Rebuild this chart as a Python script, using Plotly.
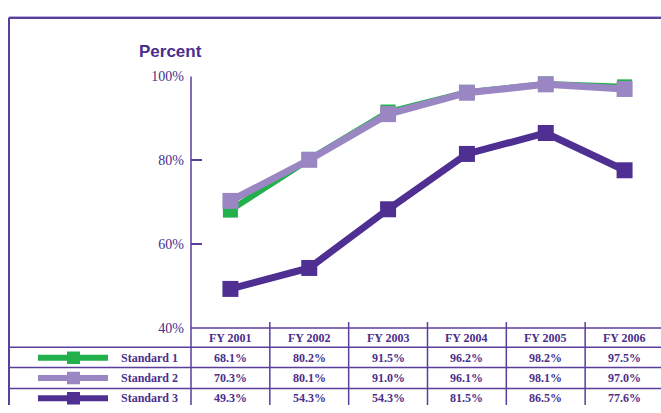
import plotly.graph_objects as go

W, H = 661, 413

categories = ["FY 2001", "FY 2002", "FY 2003", "FY 2004", "FY 2005", "FY 2006"]
series_names = ["Standard 1", "Standard 2", "Standard 3"]
standard1 = [68.1, 80.2, 91.5, 96.2, 98.2, 97.5]
standard2 = [70.3, 80.1, 91.0, 96.1, 98.1, 97.0]
standard3 = [49.3, 54.3, 68.3, 81.5, 86.5, 77.6]
# table texts as printed in the chart
table_standard1 = ["68.1%", "80.2%", "91.5%", "96.2%", "98.2%", "97.5%"]
table_standard2 = ["70.3%", "80.1%", "91.0%", "96.1%", "98.1%", "97.0%"]
table_standard3 = ["49.3%", "54.3%", "54.3%", "81.5%", "86.5%", "77.6%"]
y_ticks = [40, 60, 80, 100]
y_tick_labels = ["40%", "60%", "80%", "100%"]

colors = ["#22B04D", "#9A86C2", "#4F2F92"]
line_widths = [6, 7, 7]
marker_sizes = [15, 16, 16]
TXT = "#4A2E8C"
LINE = "#5A3E9C"
SERIF = "Liberation Serif, Times New Roman, serif"

def px(x):
    return x / W

def py(y):
    return 1 - y / H

values = [standard1, standard2, standard3]
tables = [table_standard1, table_standard2, table_standard3]

fig = go.Figure()
for name, vals, c, lw, ms in zip(series_names, values, colors, line_widths, marker_sizes):
    fig.add_trace(go.Scatter(
        x=list(range(len(categories))), y=vals, name=name, mode="lines+markers",
        line=dict(color=c, width=lw), marker=dict(symbol="square", size=ms, color=c),
        cliponaxis=False, showlegend=False, hoverinfo="x+y"))

col_w = 78.83
x_left = 191
x_right = W
x_range = [-0.5, -0.5 + (x_right - x_left) / col_w]

shapes = []
def hline(x0, x1, y, color=LINE, w=1.5):
    shapes.append(dict(type="line", xref="paper", yref="paper", x0=px(x0), x1=px(x1),
                       y0=py(y), y1=py(y), line=dict(color=color, width=w)))
def vline(x, y0, y1, color=LINE, w=1.5):
    shapes.append(dict(type="line", xref="paper", yref="paper", x0=px(x), x1=px(x),
                       y0=py(y0), y1=py(y1), line=dict(color=color, width=w)))

# outer frame
hline(9, W, 10, color="#B3A6D6", w=1)
hline(9, W, 11.5, w=2)
vline(9, 11, H, w=2)
# table grid
hline(191, W, 333)
for yy in [353, 374, 396]:
    hline(9, W, yy)
vline(191, 72, H)
for i in range(1, len(categories)):
    vline(x_left + i * col_w, 327, H)

annotations = []
row_centers = [364, 385, 406]
# header labels
for i, cat in enumerate(categories):
    annotations.append(dict(x=i, y=py(343), xref="x", yref="paper", text="<b>" + cat + "</b>",
                            showarrow=False, font=dict(family=SERIF, size=12, color=TXT),
                            xanchor="center", yanchor="middle"))
for r, (name, tab, c) in enumerate(zip(series_names, tables, colors)):
    yc = row_centers[r]
    annotations.append(dict(x=px(180), y=py(yc), xref="paper", yref="paper", text="<b>" + name + "</b>",
                            showarrow=False, font=dict(family=SERIF, size=12, color=TXT),
                            xanchor="right", yanchor="middle"))
    for i, t in enumerate(tab):
        annotations.append(dict(x=i, y=py(yc), xref="x", yref="paper", text="<b>" + t + "</b>",
                                showarrow=False, font=dict(family=SERIF, size=12, color=TXT),
                                xanchor="center", yanchor="middle"))
    # legend sample
    shapes.append(dict(type="line", xref="paper", yref="paper", x0=px(38), x1=px(108),
                       y0=py(yc), y1=py(yc), line=dict(color=c, width=6)))
    shapes.append(dict(type="rect", xref="paper", yref="paper", x0=px(67), x1=px(80),
                       y0=py(yc - 6.5), y1=py(yc + 6.5), line=dict(width=0), fillcolor=c))

annotations.append(dict(x=px(137), y=py(46), xref="paper", yref="paper", text="<b>Percent</b>",
                        showarrow=False, font=dict(family="Liberation Sans Narrow, Arial Narrow, sans-serif",
                                                   size=17, color=TXT),
                        xanchor="left", yanchor="middle"))

fig.update_layout(
    width=W, height=H, margin=dict(l=0, r=0, t=0, b=0),
    paper_bgcolor="white", plot_bgcolor="white",
    shapes=shapes, annotations=annotations,
    xaxis=dict(domain=[px(191), 1], range=x_range, showgrid=False, zeroline=False,
               showticklabels=False, showline=False, fixedrange=True),
    yaxis=dict(domain=[py(333), py(72)], range=[40, 100], tickvals=y_ticks, ticktext=y_tick_labels,
               ticks="inside", ticklen=11, tickwidth=1.5, tickcolor=LINE, showgrid=False,
               zeroline=False, showline=False, ticklabelstandoff=6,
               tickfont=dict(family=SERIF, size=14, color=TXT), fixedrange=True),
)

fig.write_html("out.html", config={"displayModeBar": False},
               post_script="document.body.style.margin='0';document.body.style.overflow='hidden';")
